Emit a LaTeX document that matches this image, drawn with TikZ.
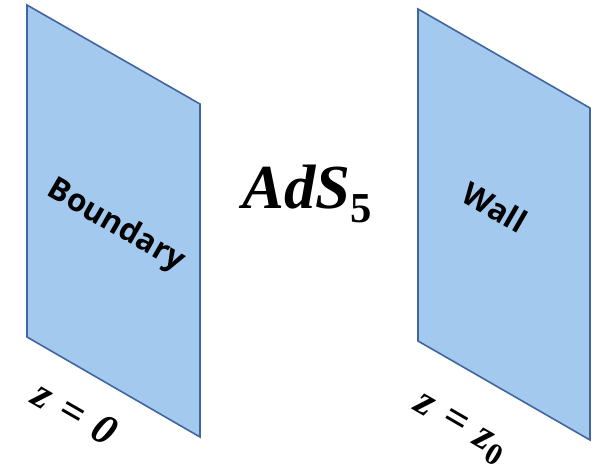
\documentclass[tikz,border=0pt]{standalone}
\usepackage{fontspec}
\setmainfont{Liberation Serif}
\newfontfamily\labelfont{Open Sans}
\begin{document}
\begin{tikzpicture}[x=0.75pt,y=-0.75pt,
  panel/.style={draw=panelline,fill=panelfill,line width=1.2pt,line join=miter},
  planelabel/.style={font=\labelfont\bfseries\fontsize{23.5}{28}\selectfont,rotate=-30},
  zlabel/.style={font=\bfseries\itshape\fontsize{32}{36}\selectfont,rotate=-30}]
\definecolor{panelfill}{HTML}{A4C9EE}
\definecolor{panelline}{HTML}{41659E}
\useasboundingbox (0,0) rectangle (603,468);
\draw[panel] (27,5) -- (200,104) -- (200,437) -- (27,337) -- cycle;
\draw[panel] (418,9) -- (590,108) -- (590,440) -- (418,341) -- cycle;
\node[planelabel] (boundary) at (116,226) {Boundary};
\node[planelabel] (wall) at (495,207) {Wall};
\node (ads) at (307,194) {\fontsize{47}{52}\selectfont\bfseries\itshape AdS\raisebox{-0.22em}{\upshape\fontsize{32}{36}\selectfont 5}};
\node[zlabel] (z0) at (75,413) {z\hspace{0.32em}=\hspace{0.32em}0};
\node[zlabel] (zz0) at (459,430) {z\hspace{0.32em}=\hspace{0.32em}z\raisebox{-0.2em}{\upshape\fontsize{23}{26}\selectfont 0}};
\end{tikzpicture}
\end{document}
